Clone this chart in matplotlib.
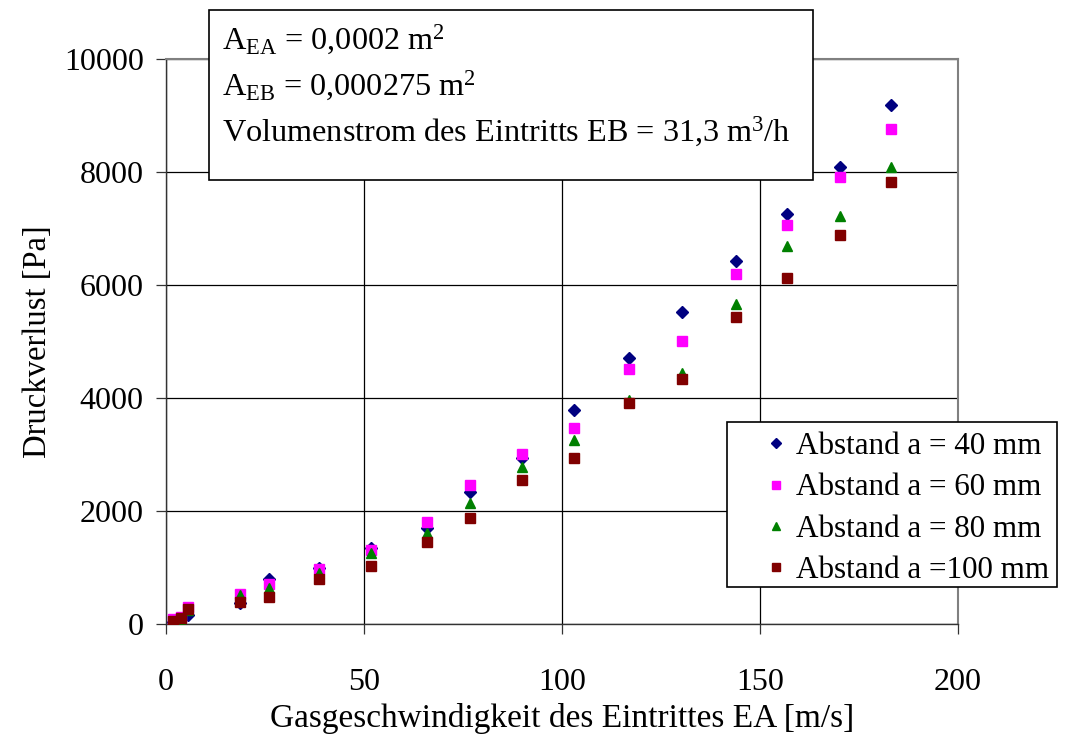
import matplotlib
matplotlib.use("Agg")
import matplotlib.pyplot as plt
from matplotlib.patches import Rectangle

plt.rcParams['font.family'] = ['Liberation Serif', 'DejaVu Serif']
plt.rcParams['mathtext.fontset'] = 'custom'
plt.rcParams['mathtext.rm'] = 'Liberation Serif'
plt.rcParams['mathtext.it'] = 'Liberation Serif:italic'

# Gasgeschwindigkeit [m/s]
geschw = [1.8, 3.8, 5.6, 18.7, 26.0, 38.6, 51.8, 66.0, 76.8, 89.9,
          103.0, 116.9, 130.3, 143.9, 156.8, 170.2, 183.1]
# Druckverlust [Pa] je Abstand
a40 = [40, 100, 160, 380, 790, 990, 1350, 1700, 2330, 2940,
       3790, 4710, 5525, 6430, 7250, 8090, 9180]
a60 = [90, 120, 300, 525, 715, 965, 1305, 1810, 2460, 3005,
       3470, 4505, 5010, 6190, 7055, 7920, 8760]
a80 = [30, 40, 250, 505, 640, 900, 1265, 1605, 2135, 2775,
       3260, 3970, 4440, 5655, 6690, 7220, 8085]
a100 = [50, 115, 270, 390, 480, 805, 1035, 1445, 1870, 2550,
        2945, 3910, 4335, 5425, 6130, 6890, 7830]

labels = ['Abstand a = 40 mm', 'Abstand a = 60 mm', 'Abstand a = 80 mm', 'Abstand a =100 mm']

W, H = 1072, 737
fig = plt.figure(figsize=(W / 100, H / 100), dpi=100)
ax = fig.add_axes([166 / W, 1 - 624 / H, (958 - 166) / W, (624 - 59) / H])

ax.plot(geschw, a40, 'D', color='#000080', ms=6.5, mec='#000080', label=labels[0], zorder=3)
ax.plot(geschw, a60, 's', color='#FF00FF', ms=7, mec='#FF00FF', label=labels[1], zorder=3)
ax.plot(geschw, a80, '^', color='#008000', ms=7.5, mec='#008000', label=labels[2], zorder=3)
ax.plot(geschw, a100, 's', color='#800000', ms=7, mec='#800000', label=labels[3], zorder=3)

ax.set_xlim(0, 200)
ax.set_ylim(0, 10000)
ax.set_xticks([0, 50, 100, 150, 200])
ax.set_yticks([0, 2000, 4000, 6000, 8000, 10000])
ax.grid(True, color='black', lw=0.9)
ax.set_axisbelow(True)
ax.tick_params(direction='out', length=7, width=0.9, labelsize=23, color='#333333')
ax.tick_params(axis='y', pad=9)
ax.tick_params(axis='x', pad=25)
for s in ['top', 'right']:
    ax.spines[s].set_color('#808080')
    ax.spines[s].set_linewidth(1.5)
for s in ['left', 'bottom']:
    ax.spines[s].set_color('#333333')
    ax.spines[s].set_linewidth(1)

ax.set_xlabel('Gasgeschwindigkeit des Eintrittes EA [m/s]', fontsize=24, labelpad=4)
ax.set_ylabel('Druckverlust [Pa]', fontsize=23.5, labelpad=8)

# Textfeld oben
box = Rectangle((209 / W, 1 - 180 / H), (813 - 209) / W, (180 - 10) / H,
                transform=fig.transFigure, facecolor='white', edgecolor='black',
                lw=1.2, zorder=5)
fig.add_artist(box)
zeilen = [r'A$_{\mathrm{EA}}$ = 0,0002 m$^{2}$',
          r'A$_{\mathrm{EB}}$ = 0,000275 m$^{2}$',
          r'Volumenstrom des Eintritts EB = 31,3 m$^{3}$/h']
for i, z in enumerate(zeilen):
    fig.text(222 / W, 1 - (40 + i * 46) / H, z, fontsize=23.2, va='center',
             ha='left', zorder=6)

# Legende mit eigenem Rahmen
rahmen = Rectangle((727 / W, 1 - 587 / H), (1057 - 727) / W, (587 - 422) / H,
                   transform=fig.transFigure, facecolor='white', edgecolor='black',
                   lw=1.2, zorder=5)
fig.add_artist(rahmen)
leg = fig.legend(loc='upper left', bbox_to_anchor=(765 / W, 1 - 432 / H),
                 fontsize=22.4, frameon=False, handlelength=0.7, handletextpad=0.3,
                 borderpad=0, borderaxespad=0, labelspacing=0.4, markerscale=0.8)
leg.set_zorder(6)

fig.savefig('out.png', dpi=100)
